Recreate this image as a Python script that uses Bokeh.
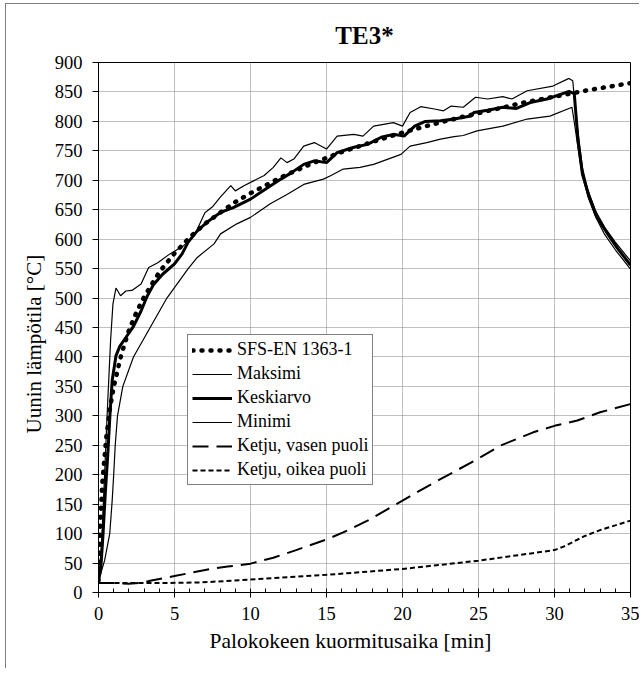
from bokeh.plotting import figure
from bokeh.models import Range1d, Legend, LegendItem, SingleIntervalTicker, Title
from bokeh.embed import file_html
from bokeh.resources import INLINE

# ---- data ----
std_t = [0, 0.1, 0.25, 0.5, 0.75, 1, 1.5, 2, 2.5, 3, 4, 5, 6, 7, 8, 9, 10, 12, 14, 16,
         18, 20, 22, 24, 26, 28, 30, 32, 35]
std_T = [20, 110, 185, 261, 312, 349, 404, 445, 476, 502, 544, 576, 603, 626, 645, 663,
         678, 705, 728, 748, 765, 781, 795, 808, 820, 832, 842, 852, 865]

max_t = [0, 0.2, 0.4, 0.6, 0.8, 0.95, 1.15, 1.45, 1.8, 2.2, 2.8, 3.3, 3.9, 4.7, 5.6, 6.3,
         7.0, 7.5, 8.0, 8.7, 9.0, 9.6, 10.2, 10.9, 11.5, 12.0, 12.4, 12.85, 13.5, 14.2,
         15.0, 15.7, 16.8, 17.4, 18.1, 19.4, 20.0, 20.5, 21.2, 22.1, 22.7, 23.2, 24.0,
         24.8, 25.6, 26.6, 27.2, 28.2, 29.9, 30.95, 31.2, 31.4, 31.6, 31.85, 32.2, 32.7,
         33.3, 34.0, 35]
max_T = [20, 80, 200, 320, 430, 490, 517, 504, 512, 513, 524, 552, 560, 575, 589, 606,
         645, 655, 671, 691, 682, 691, 699, 708, 722, 738, 730, 736, 758, 764,
         753, 775, 778, 775, 792, 798, 792, 815, 825, 821, 818, 826, 824,
         841, 838, 842, 838, 852, 860, 873, 869, 815, 770, 720, 683, 648,
         620, 595, 563]

mean_t = [0, 0.15, 0.3, 0.45, 0.6, 0.75, 0.9, 1.15, 1.4, 1.8, 2.3, 2.8, 3.2, 3.6, 4.2,
          5.0, 5.5, 5.9, 6.5, 7.2, 8.0, 8.9, 10.0, 11.1, 12.0, 12.7, 13.5, 14.2, 15.0,
          15.7, 16.8, 17.7, 18.6, 19.4, 20.1, 20.8, 21.5, 22.5, 23.4, 24.5, 24.7, 25.6,
          26.6, 27.5, 28.4, 29.5, 30.4, 30.95, 31.3, 31.55, 31.84, 32.3, 32.8, 33.5,
          34.1, 35]
mean_T = [20, 40, 100, 170, 230, 300, 360, 402, 418, 433, 452, 478, 503, 522, 540,
          558, 575, 595, 614, 630, 645, 654, 668, 687, 702, 713, 727, 733, 730,
          747, 756, 761, 773, 778, 775, 792, 800, 801, 804, 809, 815, 819,
          824, 822, 832, 838, 846, 851, 847, 767, 710, 671, 637, 609,
          586, 556]

min_t = [0, 0.4, 0.74, 0.9, 1.0, 1.1, 1.25, 1.6, 2.3, 3.4, 4.5, 5.9, 6.5, 7.6, 8.03,
         9.1, 10.0, 11.3, 12.4, 13.5, 14.8, 15.3, 16.1, 17.2, 18.1, 19.9, 20.5, 21.6,
         22.5, 23.4, 24.0, 24.9, 26.6, 28.2, 29.7, 31.15, 31.35, 31.55, 31.8, 32.2,
         32.7, 33.3, 34.0, 35]
min_T = [20, 54, 100, 156, 200, 250, 300, 350, 400, 450, 500, 550, 569, 592, 609,
         626, 637, 660, 676, 693, 702, 708, 719, 722, 727, 744, 758, 764,
         770, 774, 776, 784, 792, 804, 809, 824, 790, 755, 712, 672,
         638, 608, 582, 549]

left_t = [0, 1, 2, 3, 3.4, 5, 6, 7.4, 8.5, 10, 11.5, 13, 15, 16.1, 17.7, 20, 22.1, 24.9,
          26.4, 28.6, 30, 31.5, 33, 35]
left_T = [16, 16, 15, 17, 20, 28, 33, 40, 44, 49, 59, 72, 90, 102, 122, 156, 187, 226,
          249, 272, 283, 292, 306, 320]

right_t = [0, 2, 4, 6.7, 10, 15, 20, 25, 30, 30.6, 32, 33, 35]
right_T = [16, 16, 16, 17, 22, 30, 40, 54, 72, 78, 96, 106, 122]

x_ticks_interval = 5
y_ticks_interval = 50

FONT = "Liberation Serif"

p = figure(width=634, height=665, output_backend="svg", toolbar_location=None,
           x_range=Range1d(0, 35), y_range=Range1d(0, 900),
           min_border_left=92, min_border_right=10, min_border_top=58,
           min_border_bottom=77)
p.styles = {"margin-left": "5px", "margin-top": "3px",
            "border-left": "1px solid #808080", "border-top": "1px solid #808080"}

p.title.text = "TE3*"
p.title.align = "center"
p.title.text_font = FONT
p.title.text_font_size = "25px"
p.title.text_font_style = "bold"
p.title.text_color = "black"
p.title.standoff = 19
p.title.padding = 4

p.outline_line_color = "black"
p.outline_line_width = 1

p.xaxis.ticker = SingleIntervalTicker(interval=x_ticks_interval, num_minor_ticks=5)
p.yaxis.ticker = SingleIntervalTicker(interval=y_ticks_interval, num_minor_ticks=0)
for ax in (p.xaxis[0], p.yaxis[0]):
    ax.axis_line_color = "black"
    ax.major_tick_line_color = "black"
    ax.major_label_text_font = FONT
    ax.major_label_text_font_size = "18.5px"
    ax.major_label_text_color = "black"
    ax.major_tick_in = 0
p.xaxis.major_tick_out = 5
p.yaxis.major_tick_out = 6
p.xaxis.minor_tick_in = 4
p.xaxis.minor_tick_out = 0
p.xaxis.minor_tick_line_color = "black"
p.yaxis.minor_tick_line_color = None
p.xaxis.major_label_standoff = 9
p.yaxis.major_label_standoff = 10

xlabel = Title(text="Palokokeen kuormitusaika [min]", align="left", offset=111,
               text_font=FONT, text_font_size="21.5px", text_font_style="normal",
               text_color="black", standoff=9)
ylabel = Title(text="Uunin lämpötila [°C]", align="left", offset=159,
               text_font=FONT, text_font_size="21px", text_font_style="normal",
               text_color="black", standoff=11)
p.add_layout(xlabel, "below")
p.add_layout(ylabel, "left")

for g in (p.xgrid[0], p.ygrid[0]):
    g.grid_line_color = "#808080"
    g.grid_line_dash = "1 1"
    g.grid_line_width = 1

r_max = p.line(max_t, max_T, line_color="black", line_width=1.2)
r_min = p.line(min_t, min_T, line_color="black", line_width=1.2)
r_mean = p.line(mean_t, mean_T, line_color="black", line_width=3)
r_left = p.line(left_t, left_T, line_color="black", line_width=2, line_dash="16 8")
r_right = p.line(right_t, right_T, line_color="black", line_width=2, line_dash="5 3")
r_std = p.line(std_t, std_T, line_color="black", line_width=4.5, line_dash="1 8",
               line_cap="round")

legend = Legend(items=[
    LegendItem(label="SFS-EN 1363-1", renderers=[r_std]),
    LegendItem(label="Maksimi", renderers=[r_max]),
    LegendItem(label="Keskiarvo", renderers=[r_mean]),
    LegendItem(label="Minimi", renderers=[r_min]),
    LegendItem(label="Ketju, vasen puoli", renderers=[r_left]),
    LegendItem(label="Ketju, oikea puoli", renderers=[r_right]),
], location=(89, 107))
legend.border_line_color = "black"
legend.border_line_width = 1
legend.background_fill_color = "white"
legend.background_fill_alpha = 1
legend.label_text_font = FONT
legend.label_text_font_size = "18px"
legend.label_text_color = "black"
legend.glyph_width = 40
legend.glyph_height = 20
legend.label_height = 20
legend.spacing = 3
legend.padding = 4
legend.margin = 0
legend.label_standoff = 5
p.add_layout(legend)

open("out.html", "w").write(file_html(p, INLINE))
